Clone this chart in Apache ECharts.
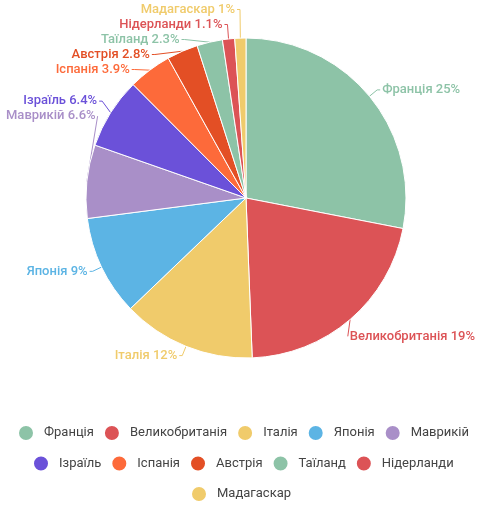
<!DOCTYPE html>
<html>
<head>
<meta charset="utf-8">
<script src="https://cdn.jsdelivr.net/npm/echarts@6/dist/echarts.min.js"></script>
<style>
  html, body { margin: 0; padding: 0; background: #fff; }
  #chart { width: 489px; height: 514px; }
</style>
</head>
<body>
<div id="chart"></div>
<script>
const countries = ['Франція', 'Великобританія', 'Італія', 'Японія', 'Маврикій', 'Ізраїль', 'Іспанія', 'Австрія', 'Таїланд', 'Нідерланди', 'Мадагаскар'];
const shares = [25, 19, 12, 9, 6.6, 6.4, 3.9, 2.8, 2.3, 1.1, 1];
const palette = ['#8dc3a7', '#dc5356', '#f0cb6b', '#5cb4e4', '#a98fc8', '#6b51d9', '#fd6a3a', '#e34f25', '#8dc3a7', '#dc5356', '#f0cb6b'];
const legendRows = [countries.slice(0, 5), countries.slice(5, 10), countries.slice(10)];

const W = 489, CX = 246, CY = 198, RADIUS = 160, LEN = 10, LEN2 = 3, GAP = 2;
const PAD_L = 6, PAD_R = 14, TOP_MIN = 2;
const LEGEND_MID = 240.5, ICON = 16, ITEM_GAP = 9, TEXT_PAD = 5;

// pass 1 records where echarts puts each label, pass 2 applies our own spreading
const natural = {};
let placed = null;

function labelLayout(p) {
    if (!placed) {
        natural[p.dataIndex] = {
            rect: { x: p.labelRect.x, y: p.labelRect.y, width: p.labelRect.width, height: p.labelRect.height },
            left: p.align === 'right',
            pts: p.labelLinePoints,
        };
        return;
    }
    return placed[p.dataIndex];
}

function arrange() {
    placed = {};
    const R = RADIUS + LEN;
    [true, false].forEach((left) => {
        const dir = left ? -1 : 1;
        const items = Object.keys(natural).map(Number)
            .filter((i) => natural[i].left === left && natural[i].pts)
            .map((i) => {
                const n = natural[i];
                let y = n.rect.y + n.rect.height / 2;
                const over = left ? PAD_L - n.rect.x : n.rect.x + n.rect.width - (W - PAD_R);
                if (over > 0) {
                    // slide along the pie until the text fits in the canvas
                    const textEdge = left ? PAD_L + n.rect.width : W - PAD_R - n.rect.width;
                    const knee = textEdge - dir * (GAP + LEN2);
                    const dx = Math.abs(knee - CX);
                    const dy = Math.sqrt(Math.max(R * R - dx * dx, 0));
                    y = y < CY ? CY - dy : CY + dy;
                }
                return { i, n, y, h: n.rect.height };
            })
            .sort((a, b) => a.y - b.y);

        // merge overlapping labels into stacks centred on their mean position
        const clusters = items.map((it) => ({ members: [it], h: it.h, c: it.y }));
        let merged = true;
        while (merged) {
            merged = false;
            for (let k = 1; k < clusters.length; k++) {
                const a = clusters[k - 1], b = clusters[k];
                if (a.c + a.h / 2 > b.c - b.h / 2) {
                    const members = a.members.concat(b.members);
                    const c = members.reduce((s, m) => s + m.y, 0) / members.length;
                    clusters.splice(k - 1, 2, { members, h: a.h + b.h, c });
                    merged = true;
                    break;
                }
            }
        }
        clusters.forEach((cl) => {
            let top = Math.max(cl.c - cl.h / 2, TOP_MIN);
            cl.members.forEach((m) => { m.ny = top + m.h / 2; top += m.h; });
        });

        items.forEach((m) => {
            const pts = m.n.pts;
            const dy = Math.abs(m.ny - CY);
            const circ = dy < R ? Math.sqrt(R * R - dy * dy) : 0;
            const kdx = Math.max(circ, Math.abs(pts[1][0] - CX));
            let kneeX = CX + dir * kdx;
            let endX = kneeX + dir * LEN2;
            let textX = endX + dir * GAP;
            const w = m.n.rect.width;
            if (left && textX - w < PAD_L) {
                textX = PAD_L + w; endX = textX + GAP; kneeX = endX;
            } else if (!left && textX + w > W - PAD_R) {
                textX = W - PAD_R - w; endX = textX - GAP; kneeX = endX;
            }
            placed[m.i] = {
                x: textX, y: m.ny,
                align: left ? 'right' : 'left', verticalAlign: 'middle',
                labelLinePoints: [pts[0], [kneeX, m.ny], [endX, m.ny]],
            };
        });
    });
}

// width of one legend row, so each row can be centred on its own
const ctx = document.createElement('canvas').getContext('2d');
ctx.font = '13px Roboto';
function rowLeft(row) {
    const width = row.reduce((s, name) => s + ICON + 5 + TEXT_PAD + ctx.measureText(name).width, 0)
        + ITEM_GAP * (row.length - 1);
    return Math.round(LEGEND_MID - width / 2);
}

const option = {
    backgroundColor: '#fff',
    color: palette,
    animation: false,
    legend: legendRows.map((row, i) => ({
        top: 423 + i * 30.5,
        left: rowLeft(row),
        padding: 0,
        icon: 'circle',
        itemWidth: ICON,
        itemHeight: ICON,
        itemGap: ITEM_GAP,
        textStyle: {
            color: '#444', fontSize: 13, fontFamily: 'Roboto',
            lineHeight: 20, padding: [0, 0, 0, TEXT_PAD],
        },
        data: row,
    })),
    series: [{
        type: 'pie',
        center: [CX, CY],
        radius: RADIUS,
        startAngle: 90,
        avoidLabelOverlap: false,
        itemStyle: { borderColor: '#fff', borderWidth: 1 },
        label: {
            formatter: '{b} {c}%',
            fontFamily: 'Roboto',
            fontSize: 13,
            fontWeight: 500,
            lineHeight: 15,
            color: 'inherit',
            overflow: 'none',
            distanceToLabelLine: GAP,
        },
        labelLine: { length: LEN, length2: LEN2 },
        labelLayout: labelLayout,
        data: countries.map((c, i) => ({ name: c, value: shares[i] })),
    }],
};

const chart = echarts.init(document.getElementById('chart'));
chart.setOption(option);
arrange();
chart.setOption(option, true);
</script>
</body>
</html>
